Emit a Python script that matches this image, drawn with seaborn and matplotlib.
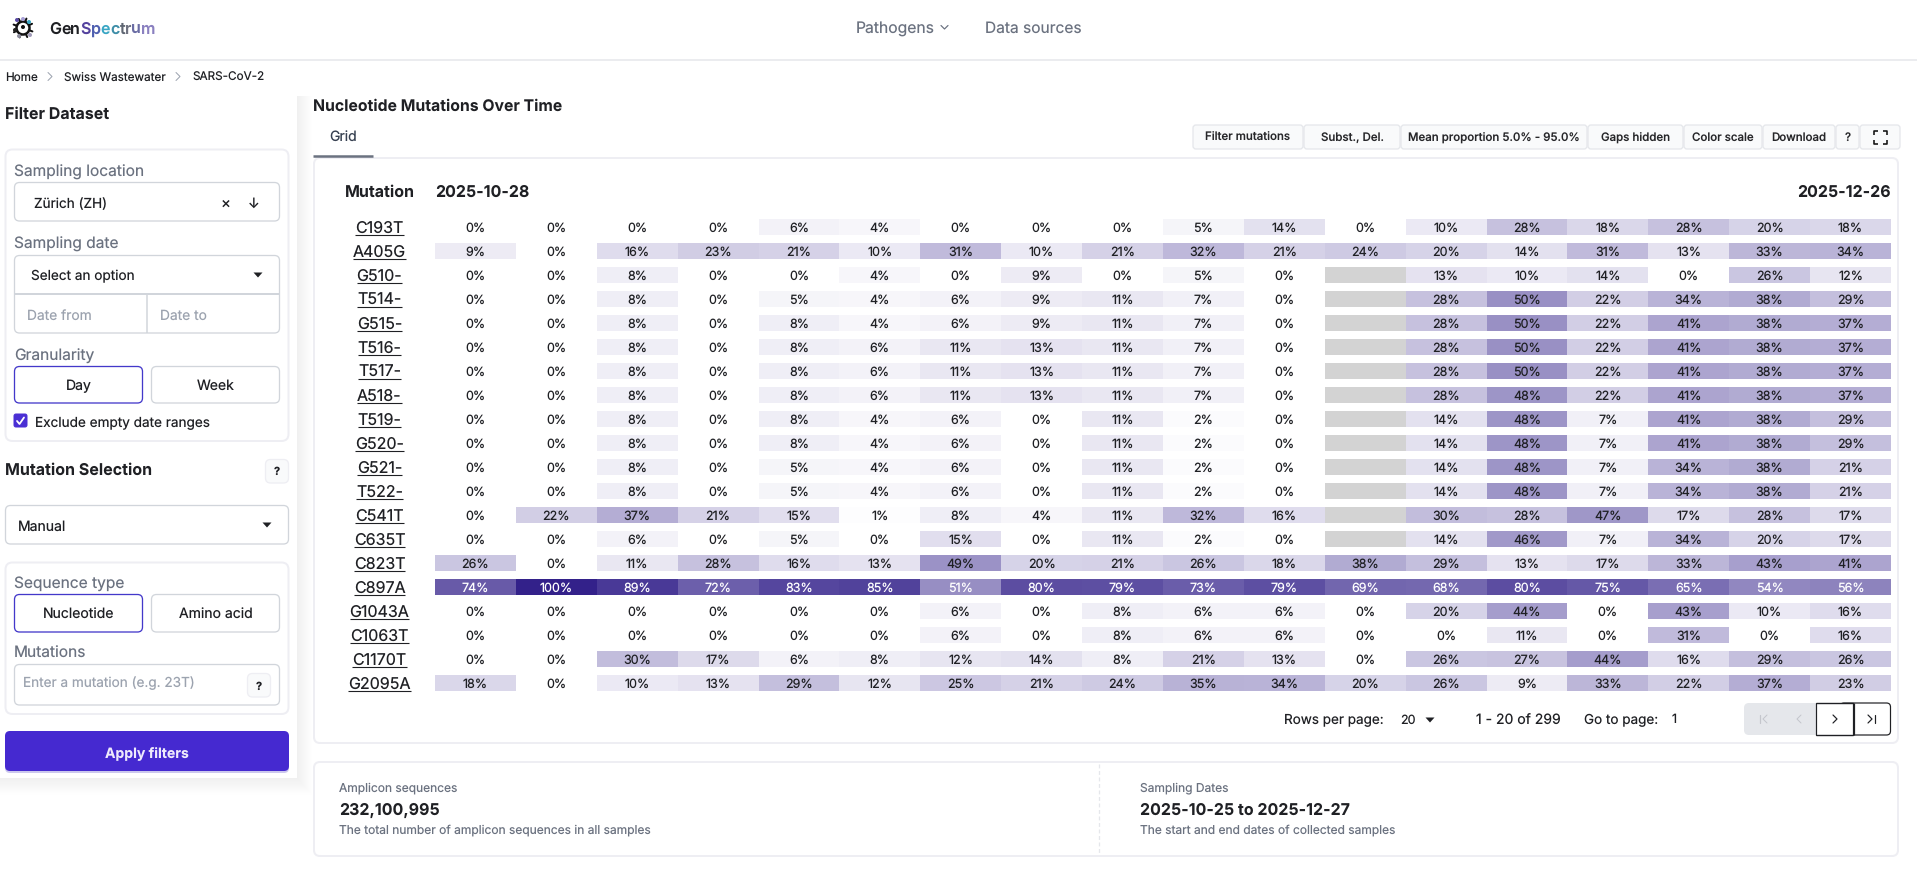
import numpy as np
import pandas as pd
import matplotlib
matplotlib.use("Agg")
import matplotlib.pyplot as plt
import seaborn as sns
from matplotlib.colors import LinearSegmentedColormap
from matplotlib.patches import Circle, FancyBboxPatch, Polygon, Rectangle
from matplotlib.transforms import ScaledTranslation

W, H, DPI = 1917, 878, 100
NA = np.nan

mutations = ["C193T", "A405G", "G510-", "T514-", "G515-", "T516-", "T517-", "A518-", "T519-", "G520-",
             "G521-", "T522-", "C541T", "C635T", "C823T", "C897A", "G1043A", "C1063T", "C1170T", "G2095A"]
first_date = "2025-10-28"
last_date = "2025-12-26"

proportions = [
    [0, 0, 0, 0, 6, 4, 0, 0, 0, 5, 14, 0, 10, 28, 18, 28, 20, 18],
    [9, 0, 16, 23, 21, 10, 31, 10, 21, 32, 21, 24, 20, 14, 31, 13, 33, 34],
    [0, 0, 8, 0, 0, 4, 0, 9, 0, 5, 0, NA, 13, 10, 14, 0, 26, 12],
    [0, 0, 8, 0, 5, 4, 6, 9, 11, 7, 0, NA, 28, 50, 22, 34, 38, 29],
    [0, 0, 8, 0, 8, 4, 6, 9, 11, 7, 0, NA, 28, 50, 22, 41, 38, 37],
    [0, 0, 8, 0, 8, 6, 11, 13, 11, 7, 0, NA, 28, 50, 22, 41, 38, 37],
    [0, 0, 8, 0, 8, 6, 11, 13, 11, 7, 0, NA, 28, 50, 22, 41, 38, 37],
    [0, 0, 8, 0, 8, 6, 11, 13, 11, 7, 0, NA, 28, 48, 22, 41, 38, 37],
    [0, 0, 8, 0, 8, 4, 6, 0, 11, 2, 0, NA, 14, 48, 7, 41, 38, 29],
    [0, 0, 8, 0, 8, 4, 6, 0, 11, 2, 0, NA, 14, 48, 7, 41, 38, 29],
    [0, 0, 8, 0, 5, 4, 6, 0, 11, 2, 0, NA, 14, 48, 7, 34, 38, 21],
    [0, 0, 8, 0, 5, 4, 6, 0, 11, 2, 0, NA, 14, 48, 7, 34, 38, 21],
    [0, 22, 37, 21, 15, 1, 8, 4, 11, 32, 16, NA, 30, 28, 47, 17, 28, 17],
    [0, 0, 6, 0, 5, 0, 15, 0, 11, 2, 0, NA, 14, 46, 7, 34, 20, 17],
    [26, 0, 11, 28, 16, 13, 49, 20, 21, 26, 18, 38, 29, 13, 17, 33, 43, 41],
    [74, 100, 89, 72, 83, 85, 51, 80, 79, 73, 79, 69, 68, 80, 75, 65, 54, 56],
    [0, 0, 0, 0, 0, 0, 6, 0, 8, 6, 6, 0, 20, 44, 0, 43, 10, 16],
    [0, 0, 0, 0, 0, 0, 6, 0, 8, 6, 6, 0, 0, 11, 0, 31, 0, 16],
    [0, 0, 30, 17, 6, 8, 12, 14, 8, 21, 13, 0, 26, 27, 44, 16, 29, 26],
    [18, 0, 10, 13, 29, 12, 25, 21, 24, 35, 34, 20, 26, 9, 33, 22, 37, 23],
]

toolbar_buttons = ["Filter mutations", "Subst., Del.", "Mean proportion 5.0% - 95.0%",
                   "Gaps hidden", "Color scale", "Download", "?"]

DARK = "#1f2024"
GREY = "#6b7280"
LIGHT = "#9ca3af"
BORDER = "#d1d5db"
CARD = "#eeeef3"
INDIGO = "#4338ca"
FONT = ["Inter", "DejaVu Sans"]


def pt(size_px):
    return size_px * 72 / DPI


sns.set_theme(style="white")
plt.rcParams["font.family"] = FONT
plt.rcParams["text.hinting"] = "no_hinting"
plt.rcParams["text.hinting_factor"] = 1

fig = plt.figure(figsize=(W / DPI, H / DPI), dpi=DPI, facecolor="white")
ui = fig.add_axes([0, 0, 1, 1], zorder=0)
# the page sits one pixel lower than the coordinates
ui.set_xlim(0, W)
ui.set_ylim(H - 1, -1)
ui.axis("off")


def label(x, y, s, size=14, color=DARK, weight="normal", ha="left", va="center", **kw):
    return ui.text(x, y, s, fontsize=pt(size), color=color, fontweight=weight, ha=ha, va=va, **kw)


def box(x0, y0, x1, y1, fc="white", ec=BORDER, lw=1.0, r=5, zorder=1, alpha=None):
    p = FancyBboxPatch((x0, y0), x1 - x0, y1 - y0, boxstyle=f"round,pad=0,rounding_size={r}",
                       fc=fc, ec=ec, lw=pt(lw), zorder=zorder, alpha=alpha)
    ui.add_patch(p)


def line(xs, ys, color=DARK, lw=1.0, **kw):
    ui.plot(xs, ys, color=color, lw=pt(lw), solid_capstyle=kw.pop("cap", "round"), **kw)


def caret(x, y):
    ui.add_patch(Polygon([(x - 4.5, y - 2.5), (x + 4.5, y - 2.5), (x, y + 2.5)], fc=DARK, ec="none", zorder=3))


def chevron(x, y, d=1, s=4, color="#9ca3af", lw=1.0):
    line([x - d * s / 2, x + d * s / 2, x - d * s / 2], [y - s, y, y + s], color=color, lw=lw, zorder=3)


# header
line([0, W], [60, 60], color="#e5e7eb", lw=1.5)
for deg in range(0, 360, 45):
    a = np.deg2rad(deg + 20)
    line([23 + 6 * np.cos(a), 23 + 10 * np.cos(a)], [28 + 6 * np.sin(a), 28 + 10 * np.sin(a)], color="#111111", lw=2)
ui.add_patch(Circle((23, 28), 6.5, fc="white", ec="#111111", lw=pt(2.5), zorder=3))
ui.add_patch(Circle((23, 27), 2, fc="#111111", ec="none", zorder=4))
for x, y, c in [(17, 20, "#5b4ba5"), (23, 19, "#a79fd6"), (29, 22, "#3aa6c4"), (30, 35, "#a09ab8"),
                (19, 36, "#8f8f9f"), (15, 30, "#222222")]:
    ui.add_patch(Circle((x, y), 2, fc=c, ec="none", zorder=5))

renderer = fig.canvas.get_renderer()
logo = "GenSpectrum"
logo_colors = [DARK, DARK, DARK, "#54429e", "#4f60b0", "#3aa6c4", "#3f8ea8", "#5f6672", "#6f7280", "#6a6ca4", "#8a80c0"]
for i, c in enumerate(logo_colors):
    off = 0
    if i:
        probe = label(0, 0, logo[:i] + ".", size=16, weight="semibold")
        dot = label(0, 0, ".", size=16, weight="semibold")
        off = probe.get_window_extent(renderer).width - dot.get_window_extent(renderer).width
        probe.remove()
        dot.remove()
    label(49 + off, 32.5, logo[i], size=16, color=c, weight="semibold", va="baseline")

label(856, 28, "Pathogens", size=15.7, color=GREY)
line([941, 944.5, 948], [25.5, 29, 25.5], color=GREY, lw=1.2)
label(985, 28, "Data sources", size=15.5, color=GREY)

label(5, 76.5, "Home", size=11.7)
chevron(50, 76.5)
label(64, 76.5, "Swiss Wastewater", size=11.7)
chevron(178, 76.5)
label(192, 76.5, "SARS-CoV-2", size=11.7)

# sidebar
for k in range(1, 16):
    ui.add_patch(Rectangle((0, 96), 297 + k, 682 + k * 1.1, fc="#6b7280", ec="none", alpha=0.004, zorder=0.5))
ui.add_patch(Rectangle((0, 96), 297, 682, fc="white", ec="none", zorder=0.6))
label(5, 114, "Filter Dataset", size=16, weight="bold")

box(5.5, 149.5, 288.5, 441, ec=CARD, lw=2, r=7)
label(14, 171, "Sampling location", size=15.5, color=GREY)
box(14.5, 182.5, 279.5, 221, lw=1.3)
label(33.5, 203, "Zürich (ZH)", size=13.6)
label(226, 203, "×", size=15, ha="center")
label(253.5, 203, "↓", size=14, ha="center")

label(14, 243, "Sampling date", size=15.5, color=GREY)
box(14.5, 255.5, 279.5, 333, lw=1.3)
line([14.5, 279.5], [294, 294], color=BORDER, lw=2, cap="butt")
line([147, 147], [294, 333], color=BORDER, lw=1.5, cap="butt")
label(31, 275, "Select an option", size=13.6)
caret(258, 275)
label(27, 315, "Date from", size=13.8, color=LIGHT)
label(160, 315, "Date to", size=13.8, color=LIGHT)

label(14, 355, "Granularity", size=15.5, color=GREY)
box(14.5, 366.5, 142.5, 403, ec=INDIGO, lw=1.3)
label(78.5, 385, "Day", size=14, ha="center")
box(151.5, 366.5, 279.5, 403, lw=1.3)
label(215.5, 385, "Week", size=14, ha="center")
box(14, 414, 27, 427, fc="#4a2fd4", ec="#4a2fd4", r=2)
line([17, 19.5, 24], [421, 424, 417.5], color="white", lw=1.8, zorder=4)
label(35, 422, "Exclude empty date ranges", size=13.6)

label(5, 470, "Mutation Selection", size=16, weight="bold")
box(265.5, 459.5, 288.5, 483, fc="#f9fafb", ec=CARD, lw=1.3)
label(277, 471, "?", size=11, weight="bold", ha="center")
box(5.5, 505.5, 288.5, 544, lw=1.3)
label(18, 526, "Manual", size=14)
caret(267, 525)

box(5.5, 562.5, 288.5, 714, ec=CARD, lw=2, r=7)
label(14, 583, "Sequence type", size=15.5, color=GREY)
box(14.5, 594.5, 142.5, 632, ec=INDIGO, lw=1.3)
label(78.5, 613, "Nucleotide", size=14, ha="center")
box(151.5, 594.5, 279.5, 632, lw=1.3)
label(215.5, 613, "Amino acid", size=14, ha="center")
label(14, 653, "Mutations", size=15.5, color=GREY)
box(14.5, 664.5, 279.5, 705, lw=1.3)
label(23, 682, "Enter a mutation (e.g. 23T)", size=13.6, color=LIGHT)
box(247.5, 673.5, 270.5, 697, fc="#f9fafb", ec=CARD, lw=1.3)
label(259, 686, "?", size=11, weight="bold", ha="center")

box(5, 733, 289, 773, fc="#8f85d8", ec="none", r=5, alpha=0.45)
box(5, 731, 289, 771, fc="#4529d0", ec="none", r=5, zorder=2)
label(147, 752, "Apply filters", size=14, color="#eeeafc", weight="bold", ha="center", zorder=3)

# main panel
label(313, 106, "Nucleotide Mutations Over Time", size=15.8, weight="bold")
label(329, 136, "Grid", size=14, color="#374151")
box(314, 158, 1898, 743, ec=CARD, lw=2, r=6)
line([313, 373], [156, 156], color=GREY, lw=2.5, cap="butt", zorder=3)

toolbar_edges = [(1193, 1303), (1304, 1400), (1401, 1587), (1588, 1683), (1684, 1762), (1763, 1835), (1836, 1859)]
for (x0, x1), name in zip(toolbar_edges, toolbar_buttons):
    box(x0, 125, x1, 149, fc="#f9fafb", ec="#e5e7eb", lw=1.3, r=3)
    label((x0 + x1) / 2, 137, name, size=11.5, color="#27272a", weight="medium", ha="center", zorder=3)
box(1860, 125, 1900, 149, fc="#f9fafb", ec="#e5e7eb", lw=1.3, r=3)
for sx, sy in [(-1, -1), (1, -1), (-1, 1), (1, 1)]:
    cx, cy = 1880 + sx * 6.5, 137 + sy * 6.5
    line([cx, cx, cx - sx * 4], [cy - sy * 4, cy, cy], color="#111111", lw=1.6, cap="butt", zorder=3)

label(379.5, 192, "Mutation", size=16, weight="bold", ha="center")
label(435, 192, first_date, size=16, weight="bold")
label(1891, 192, last_date, size=16, weight="bold", ha="right")

# heatmap
df = pd.DataFrame(proportions, index=mutations)
annot = df.map(lambda v: "" if pd.isna(v) else f"{int(v)}%")
cmap = LinearSegmentedColormap.from_list("mutation_scale", ["#ffffff", "#33218a"])

ax = fig.add_axes([435 / W, 1 - 696 / H, (1891 - 435) / W, 480 / H], zorder=2)
ax.set_facecolor("#d3d3d3")
sns.heatmap(df, mask=df.isna(), cmap=cmap, vmin=0, vmax=100, annot=annot, fmt="", cbar=False, ax=ax,
            xticklabels=False, yticklabels=True, annot_kws={"fontsize": pt(12.5)})
ax.set_xlabel("")
ax.set_ylabel("")
ax.hlines(np.arange(21), 0, 18, colors="white", linewidth=pt(8), zorder=2)
for t in ax.texts:
    value = int(t.get_text().rstrip("%"))
    t.set_color("white" if value > 50 else DARK)
ax.tick_params(axis="y", length=0, pad=pt(55.5))
nudge = ScaledTranslation(0, -0.4 / DPI, fig.dpi_scale_trans)
for t in ax.get_yticklabels():
    t.set_rotation(0)
    t.set_ha("center")
    t.set_fontsize(pt(16))
    t.set_color(DARK)
    t.set_transform(t.get_transform() + nudge)

fig.canvas.draw()
for i, t in enumerate(ax.get_yticklabels()):
    bb = t.get_window_extent(renderer)
    uy = 227 + i * 24 + 8
    line([bb.x0, bb.x1], [uy, uy], color=DARK, lw=1.1, cap="butt")

# pagination
label(1283.5, 719, "Rows per page:", size=13.5)
label(1400, 719, "20", size=12.5)
caret(1430, 720)
label(1476, 720, "1 - 20 of 299", size=14)
label(1584, 719, "Go to page:", size=13.5)
label(1672, 719, "1", size=12.5)
box(1744, 703, 1830, 735, fc="#e5e7eb", ec="none", r=5)
ui.add_patch(Rectangle((1816, 703), 37, 32, fc="white", ec=DARK, lw=pt(1.2), zorder=2))
box(1840, 703, 1890.5, 735, fc="white", ec=DARK, lw=1.2, r=4, zorder=1.5)
ui.add_patch(Rectangle((1835, 704), 18, 30, fc="white", ec="none", zorder=1.8))
line([1816, 1853], [703, 703], lw=1.2, cap="butt", zorder=3)
line([1816, 1853], [735, 735], lw=1.2, cap="butt", zorder=3)
line([1853.5, 1853.5], [703, 735], lw=1.2, cap="butt", zorder=3)
line([1760, 1760], [715, 723], color="#c4c6cc", lw=1.2)
chevron(1765, 719, d=-1, color="#c4c6cc")
chevron(1799, 719, d=-1, color="#c4c6cc")
chevron(1835, 719, color=DARK, lw=1.2)
chevron(1870, 719, color=DARK, lw=1.2)
line([1875, 1875], [715, 723], lw=1.2)

# summary cards
box(314, 762, 1898, 856, ec=CARD, lw=2, r=6)
line([1098.5, 1098.5], [764, 854], color="#e5e7eb", lw=1.3, linestyle=(0, (3, 2)))
label(339, 787, "Amplicon sequences", size=12, color=GREY)
label(339, 810, "232,100,995", size=16, weight="bold")
label(339, 829, "The total number of amplicon sequences in all samples", size=12, color=GREY)
label(1140, 787, "Sampling Dates", size=12, color=GREY)
label(1140, 810, "2025-10-25 to 2025-12-27", size=16, weight="bold")
label(1140, 829, "The start and end dates of collected samples", size=12, color=GREY)

fig.savefig("out.png", dpi=DPI, facecolor="white")
